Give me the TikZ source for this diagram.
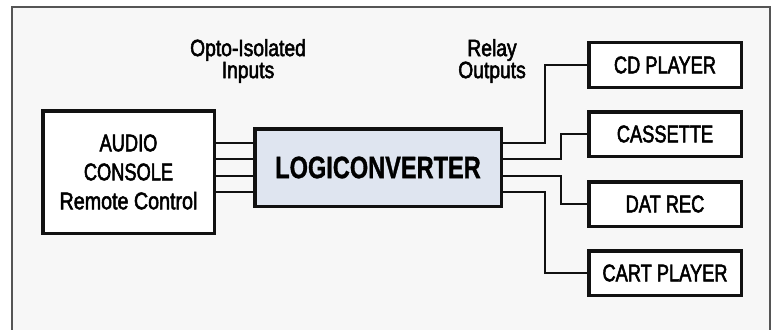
\documentclass[tikz,border=0pt]{standalone}
\usepackage{fontspec}
\newfontfamily\capfont[FakeStretch=0.76,FakeBold=2.2]{Liberation Sans}
\newfontfamily\mixfont[FakeStretch=0.82,FakeBold=2.2]{Liberation Sans}
\newfontfamily\logifont[FakeStretch=0.76,FakeBold=1]{Liberation Sans Bold}
\definecolor{bgc}{HTML}{F7F7F7}
\definecolor{logic}{HTML}{DFE5F0}
\definecolor{framec}{HTML}{555555}
\definecolor{ink}{HTML}{111111}
\begin{document}
\begin{tikzpicture}[x=1pt,y=-1pt,
  box/.style={draw=ink,line width=3.5pt,fill=white,inner sep=0pt,align=center,
    font=\capfont\fontsize{24}{29}\selectfont},
  outbox/.style={box,minimum width=152.5pt,minimum height=44.5pt},
  wire/.style={draw=ink,line width=1.3pt},
  lab/.style={align=center,inner sep=0pt,font=\mixfont\fontsize{23.5}{22}\selectfont}]
\useasboundingbox (0,0) rectangle (775,329);
\fill[white] (0,0) rectangle (775,329);
\draw[framec,line width=1.5pt,fill=bgc] (12,7) rectangle (770,345);
\node[box,minimum width=171.5pt,minimum height=122.5pt] (audio) at (128.5,172) {AUDIO\\CONSOLE\\{\mixfont Remote Control}};
\node[box,fill=logic,minimum width=246.5pt,minimum height=77.5pt,font=\logifont\fontsize{31}{34}\selectfont] (logi) at (378,167.5) {LOGICONVERTER};
\node[outbox] (cd) at (665,65) {CD PLAYER};
\node[outbox] (cas) at (665,134) {CASSETTE};
\node[outbox] (dat) at (665,204) {DAT REC};
\node[outbox] (cart) at (665,273) {CART PLAYER};
\node[lab] (inlab) at (248,61) {Opto-Isolated\\Inputs};
\node[lab] (outlab) at (492,61) {Relay\\Outputs};
\foreach \s in {24.5,8.5,-8.5,-24.5}{
  \draw[wire] ([yshift=\s pt]logi.west) -- ([yshift=\s pt]logi.west -| audio.east);
}
\draw[wire] ([yshift=24.5pt]logi.east) -- ++(42,0) |- (cd.west);
\draw[wire] ([yshift=8.5pt]logi.east) -- ++(58,0) |- (cas.west);
\draw[wire] ([yshift=-8.5pt]logi.east) -- ++(58,0) |- (dat.west);
\draw[wire] ([yshift=-24.5pt]logi.east) -- ++(42,0) |- (cart.west);
\end{tikzpicture}
\end{document}
